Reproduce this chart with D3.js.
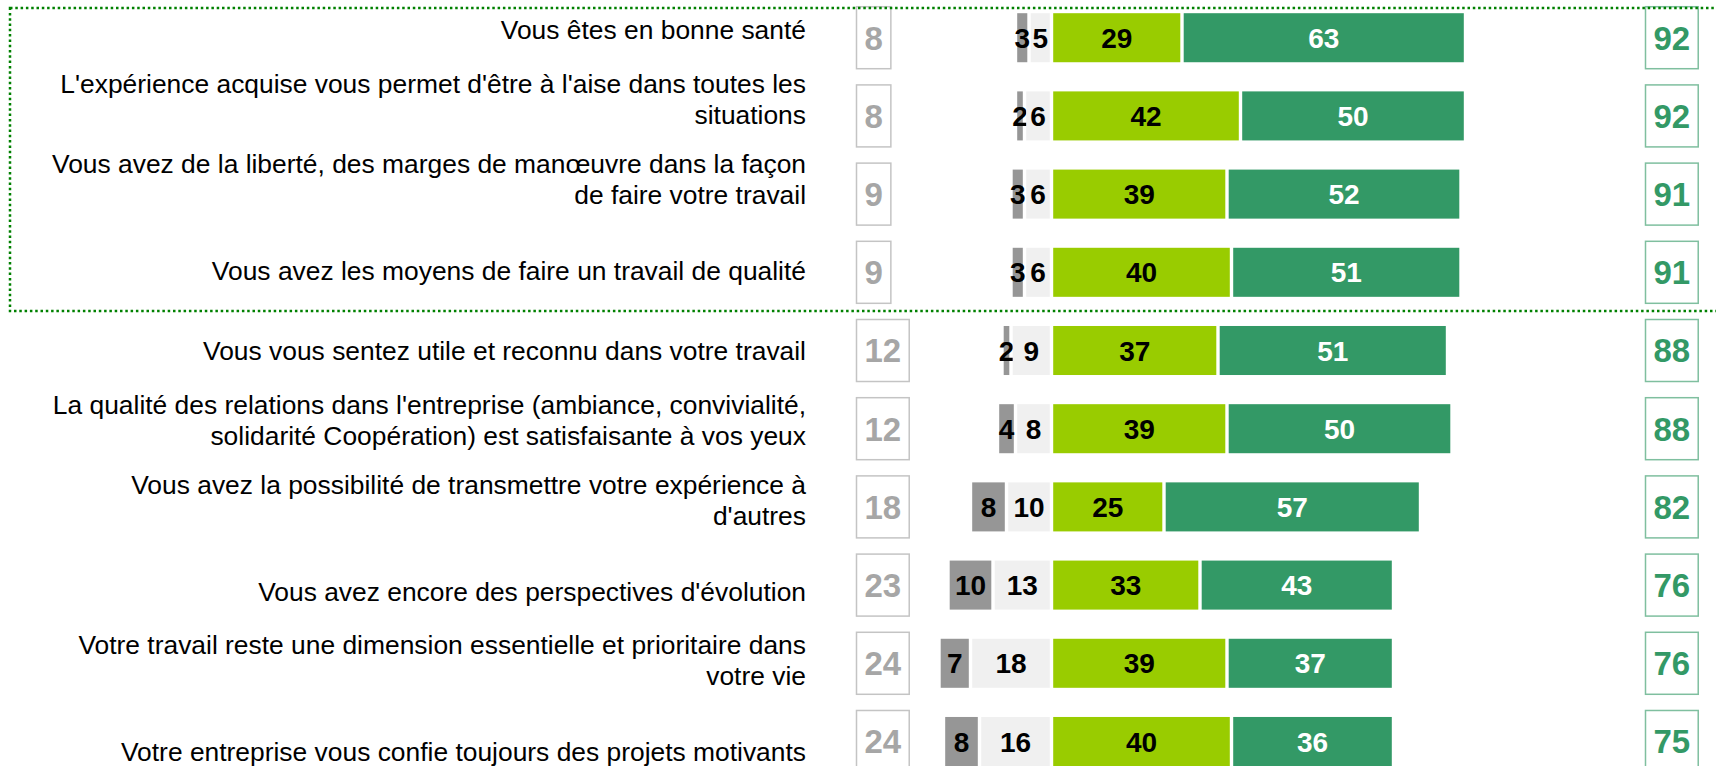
<!DOCTYPE html>
<html>
<head>
<meta charset="utf-8">
<script src="https://cdn.jsdelivr.net/npm/d3@7"></script>
<style>
  body { margin: 0; background: #fff; }
  text { font-family: "Liberation Sans", Arial, sans-serif; }
</style>
</head>
<body>
<div id="chart"></div>
<script>
// data
var labels = [
  "Vous êtes en bonne santé",
  "L'expérience acquise vous permet d'être à l'aise dans toutes les\nsituations",
  "Vous avez de la liberté, des marges de manœuvre dans la façon\nde faire votre travail",
  "Vous avez les moyens de faire un travail de qualité",
  "Vous vous sentez utile et reconnu dans votre travail",
  "La qualité des relations dans l'entreprise (ambiance, convivialité,\nsolidarité Coopération) est satisfaisante à vos yeux",
  "Vous avez la possibilité de transmettre votre expérience à\nd'autres",
  "Vous avez encore des perspectives d'évolution",
  "Votre travail reste une dimension essentielle et prioritaire dans\nvotre vie",
  "Votre entreprise vous confie toujours des projets motivants"
];
var pasDuTout = [3, 2, 3, 3, 2, 4, 8, 10, 7, 8];
var plutotPas = [5, 6, 6, 6, 9, 8, 10, 13, 18, 16];
var plutot = [29, 42, 39, 40, 37, 39, 25, 33, 39, 40];
var toutAFait = [63, 50, 52, 51, 51, 50, 57, 43, 37, 36];
var totalNon = [8, 8, 9, 9, 12, 12, 18, 23, 24, 24];
var totalOui = [92, 92, 91, 91, 88, 88, 82, 76, 76, 75];

var svgWidth = 1716;
var svgHeight = 766;

var svg = d3.select("#chart")
  .append("svg")
  .attr("width", svgWidth)
  .attr("height", svgHeight);

var rows = labels.map(function(d, i) {
  return {
    label: d,
    segs: [
      {from: -(pasDuTout[i] + plutotPas[i]), to: -plutotPas[i], v: pasDuTout[i], fill: "#969696", color: "#000"},
      {from: -plutotPas[i], to: 0, v: plutotPas[i], fill: "#f0f0f0", color: "#000"},
      {from: 0, to: plutot[i], v: plutot[i], fill: "#99cc00", color: "#000"},
      {from: plutot[i], to: plutot[i] + toutAFait[i], v: toutAFait[i], fill: "#339966", color: "#fff"}
    ],
    non: totalNon[i],
    oui: totalOui[i]
  };
});

// scales
var x = d3.scaleLinear()
  .domain([-30, 100])
  .range([916.5, 1501.5]);

var y = d3.scaleBand()
  .domain(labels)
  .range([13.2, 766])
  .paddingInner(0.373)
  .paddingOuter(0);

var yLabel = d3.scalePoint()
  .domain(labels)
  .range([30, 752]);

var row = svg.selectAll(".row")
  .data(rows)
  .enter()
  .append("g")
  .attr("class", "row");

// labels, last line anchored on the row
row.each(function(d) {
  var lines = d.label.split("\n");
  var n = lines.length;
  var g = d3.select(this);
  lines.forEach(function(l, j) {
    g.append("text")
      .attr("x", 806)
      .attr("y", yLabel(d.label) + (j - (n - 1)) * 31 + (n > 1 ? 4 : 0))
      .attr("dy", "0.358em")
      .attr("text-anchor", "end")
      .attr("font-size", "26.4px")
      .attr("fill", "#000")
      .text(l);
  });
});

// stacked segments
var seg = row.selectAll(".seg")
  .data(function(d) { return d.segs.map(function(s) { s.key = d.label; return s; }); })
  .enter()
  .append("g")
  .attr("class", "seg");

seg.append("rect")
  .attr("x", function(s) { return x(s.from) + 1.7; })
  .attr("y", function(s) { return y(s.key); })
  .attr("width", function(s) { return Math.max(0, x(s.to) - x(s.from) - 3.4); })
  .attr("height", y.bandwidth())
  .attr("fill", function(s) { return s.fill; });

seg.append("text")
  .attr("x", function(s) { return (x(s.from) + x(s.to)) / 2; })
  .attr("y", function(s) { return y(s.key) + y.bandwidth() / 2; })
  .attr("dy", "0.358em")
  .attr("text-anchor", "middle")
  .attr("font-size", "28px")
  .attr("font-weight", "bold")
  .attr("fill", function(s) { return s.color; })
  .text(function(s) { return s.v; });

// total boxes
function addBox(g, xLeft, value, textColor, borderColor) {
  var cy = y(g.datum().label) + y.bandwidth() / 2;
  var rect = g.append("rect");
  var t = g.append("text")
    .attr("y", cy)
    .attr("dy", "0.358em")
    .attr("text-anchor", "middle")
    .attr("font-size", "33px")
    .attr("font-weight", "bold")
    .attr("fill", textColor)
    .text(value);
  var w = t.node().getComputedTextLength() + 16;
  t.attr("x", xLeft + w / 2);
  rect.attr("x", xLeft)
    .attr("y", cy - 31)
    .attr("width", w)
    .attr("height", 62)
    .attr("fill", "none")
    .attr("stroke", borderColor)
    .attr("stroke-width", 1.5);
}

row.each(function(d) {
  var g = d3.select(this);
  addBox(g, 856.5, d.non, "#a6a6a6", "#c4c4c4");
  addBox(g, 1645.5, d.oui, "#339966", "#7fbf9f");
});

// dotted frame around the first group, drawn on top
svg.append("rect")
  .attr("x", 10)
  .attr("y", 8)
  .attr("width", 1720)
  .attr("height", 303)
  .attr("fill", "none")
  .attr("stroke", "#008000")
  .attr("stroke-width", 2.5)
  .attr("stroke-dasharray", "2.5,2.8");
</script>
</body>
</html>
